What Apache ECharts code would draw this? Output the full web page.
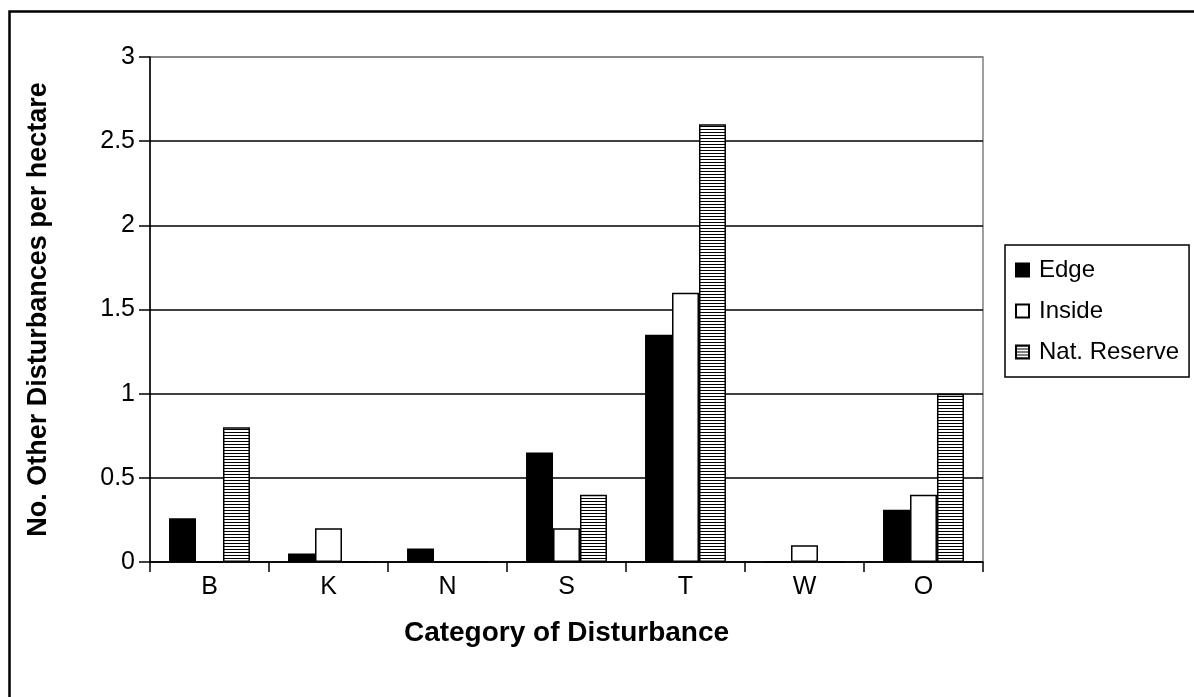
<!DOCTYPE html>
<html>
<head>
<meta charset="utf-8">
<script src="https://cdn.jsdelivr.net/npm/echarts@6/dist/echarts.min.js"></script>
<style>
html,body{margin:0;padding:0;background:#fff;}
#chart{width:1194px;height:697px;}
</style>
</head>
<body>
<div id="chart"></div>
<script>
const categories = ['B', 'K', 'N', 'S', 'T', 'W', 'O'];
const edgeValues = [0.26, 0.05, 0.08, 0.65, 1.35, 0, 0.31];
const insideValues = [0, 0.2, 0, 0.2, 1.6, 0.1, 0.4];
const reserveValues = [0.8, 0, 0, 0.4, 2.6, 0, 1.0];
const seriesNames = ['Edge', 'Inside', 'Nat. Reserve'];
const yTicks = [0, 0.5, 1, 1.5, 2, 2.5, 3];

const pc = document.createElement('canvas');
pc.width = 8; pc.height = 3;
const pctx = pc.getContext('2d');
pctx.fillStyle = '#fff'; pctx.fillRect(0, 0, 8, 3);
pctx.fillStyle = '#000'; pctx.fillRect(0, 0, 8, 1);
const stripe = { image: pc, repeat: 'repeat' };

const FONT = 'Liberation Sans, Arial, sans-serif';
const chart = echarts.init(document.getElementById('chart'), null, { renderer: 'canvas' });

const barCommon = {
  type: 'bar',
  barGap: '0%',
  barCategoryGap: '32%',
  animation: false
};

chart.setOption({
  backgroundColor: '#fff',
  textStyle: { fontFamily: FONT, color: '#000' },
  graphic: [{
    type: 'rect', left: 7, top: 9, z: -10,
    shape: { width: 1300, height: 800 },
    style: { fill: 'none', stroke: '#000', lineWidth: 2.5 }
  }],
  grid: {
    left: 150, right: 211, top: 57, bottom: 135,
    show: true, borderColor: '#808080', borderWidth: 1.5, backgroundColor: 'transparent'
  },
  legend: {
    orient: 'vertical',
    left: 1005, top: 245,
    data: seriesNames,
    backgroundColor: '#fff',
    borderColor: '#000', borderWidth: 1.5,
    padding: [13, 10, 13, 10],
    itemWidth: 13, itemHeight: 13, itemGap: 17,
    icon: 'rect',
    textStyle: { fontSize: 24, lineHeight: 24, color: '#000', fontFamily: FONT, padding: [0, 0, 0, 5] }
  },
  xAxis: {
    type: 'category',
    data: categories,
    name: 'Category of Disturbance',
    nameLocation: 'middle',
    nameGap: 57,
    nameTextStyle: { fontSize: 28, fontWeight: 'bold', color: '#000', fontFamily: FONT },
    axisLine: { lineStyle: { color: '#000', width: 1.5 } },
    axisTick: { show: true, length: 10, lineStyle: { color: '#000', width: 1.5 } },
    axisLabel: { fontSize: 25, color: '#000', margin: 13, fontFamily: FONT }
  },
  yAxis: {
    type: 'value',
    min: 0, max: 3, interval: 0.5,
    name: 'No. Other Disturbances per hectare',
    nameLocation: 'middle',
    nameRotate: 90,
    nameGap: 98,
    nameTextStyle: { fontSize: 27, fontWeight: 'bold', color: '#000', fontFamily: FONT },
    axisLine: { show: true, lineStyle: { color: '#000', width: 1.5 } },
    axisTick: { show: true, length: 11, lineStyle: { color: '#000', width: 1.5 } },
    axisLabel: {
      fontSize: 25, color: '#000', margin: 15, fontFamily: FONT,
      formatter: v => String(yTicks.find(t => Math.abs(t - v) < 1e-9) ?? v)
    },
    splitLine: { show: true, lineStyle: { color: ['#000', '#000', '#000', '#000', '#000', '#000', '#808080'], width: 1.5 } }
  },
  series: [
    Object.assign({}, barCommon, {
      name: seriesNames[0], data: edgeValues,
      itemStyle: { color: '#000', borderColor: '#000', borderWidth: 1.5 }
    }),
    Object.assign({}, barCommon, {
      name: seriesNames[1], data: insideValues,
      itemStyle: { color: '#fff', borderColor: '#000', borderWidth: 1.5 }
    }),
    Object.assign({}, barCommon, {
      name: seriesNames[2], data: reserveValues,
      itemStyle: { color: stripe, borderColor: '#000', borderWidth: 1.5 }
    })
  ]
});
</script>
</body>
</html>
